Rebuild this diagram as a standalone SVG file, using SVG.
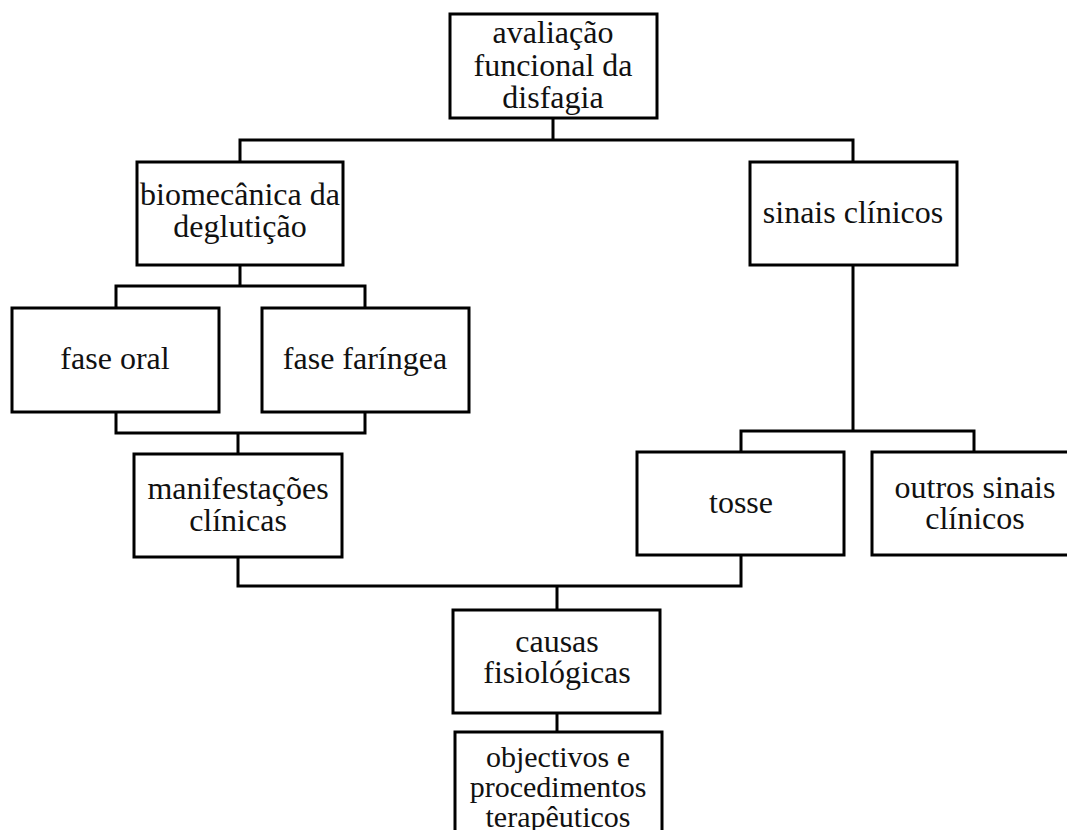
<svg xmlns="http://www.w3.org/2000/svg" width="1067" height="830" viewBox="0 0 1067 830">
<style>
.box{fill:#fff;stroke:#000;stroke-width:3}
.ln{fill:none;stroke:#000;stroke-width:3;stroke-linecap:square}
text{font-family:"Liberation Serif","Times New Roman",serif;font-size:32px;fill:#111;text-anchor:middle}
.sm{font-size:30px}
</style>
<rect width="1067" height="830" fill="#fff"/>
<g id="connectors">
<path class="ln" d="M553 118V140M240 140H853M240 140V162M853 140V162"/>
<path class="ln" d="M240 265V286M116 286H365M116 286V308M365 286V308"/>
<path class="ln" d="M116 412V433M365 412V433M116 433H365M238 433V454"/>
<path class="ln" d="M853 265V431M741 431H974M741 431V452M974 431V452"/>
<path class="ln" d="M238 557V586M741 555V586M238 586H741M557 586V610"/>
<path class="ln" d="M557 713V732"/>
</g>
<g id="n1"><rect class="box" x="450" y="14" width="207" height="104"/>
<text x="553" y="43">avaliação</text><text x="553" y="76">funcional da</text><text x="553" y="108">disfagia</text></g>
<g id="n2"><rect class="box" x="137" y="162" width="206" height="103"/>
<text x="240" y="205">biomecânica da</text><text x="240" y="237">deglutição</text></g>
<g id="n3"><rect class="box" x="750" y="162" width="207" height="103"/>
<text x="853" y="223">sinais clínicos</text></g>
<g id="n4"><rect class="box" x="12" y="308" width="207" height="104"/>
<text x="115" y="369">fase oral</text></g>
<g id="n5"><rect class="box" x="262" y="308" width="207" height="104"/>
<text x="365" y="369">fase faríngea</text></g>
<g id="n6"><rect class="box" x="134" y="454" width="208" height="103"/>
<text x="238" y="499">manifestações</text><text x="238" y="531">clínicas</text></g>
<g id="n7"><rect class="box" x="637" y="452" width="207" height="103"/>
<text x="741" y="513">tosse</text></g>
<g id="n8"><rect class="box" x="872" y="452" width="206" height="103"/>
<text x="975" y="498">outros sinais</text><text x="975" y="529">clínicos</text></g>
<g id="n9"><rect class="box" x="453" y="610" width="207" height="103"/>
<text x="557" y="652">causas</text><text x="557" y="683">fisiológicas</text></g>
<g id="n10"><rect class="box" x="455" y="732" width="207" height="110"/>
<text class="sm" x="558" y="767">objectivos e</text><text class="sm" x="558" y="797">procedimentos</text><text class="sm" x="558" y="827">terapêuticos</text></g>
</svg>
